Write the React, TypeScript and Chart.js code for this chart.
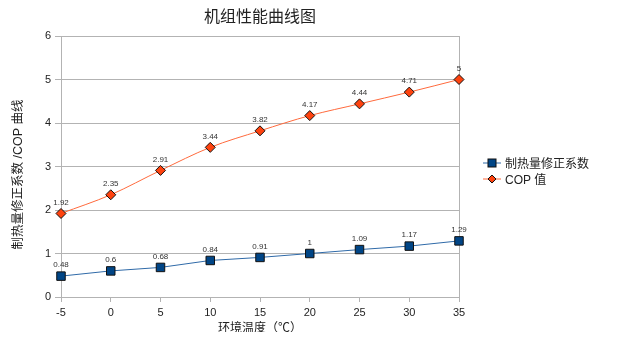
import React, { useEffect, useRef } from "react";
import { Chart, registerables } from "chart.js";

Chart.register(...registerables);

const chartTitle = "机组性能曲线图";
const xTitle = "环境温度（℃）";
const yTitle = "制热量修正系数 /COP 曲线";
const temperatures = ["-5", "0", "5", "10", "15", "20", "25", "30", "35"];
const correctionLabel = "制热量修正系数";
const correctionValues = [0.48, 0.6, 0.68, 0.84, 0.91, 1, 1.09, 1.17, 1.29];
const copLabel = "COP 值";
const copValues = [1.92, 2.35, 2.91, 3.44, 3.82, 4.17, 4.44, 4.71, 5];

const FONT = "'Liberation Sans', 'Noto Sans CJK SC', sans-serif";

const decorPlugin = {
  id: "decor",
  afterDatasetsDraw(chart: any) {
    const ctx = chart.ctx;
    const area = chart.chartArea;
    ctx.save();
    // data labels
    ctx.font = `8px ${FONT}`;
    ctx.fillStyle = "#333";
    ctx.textAlign = "center";
    ctx.textBaseline = "bottom";
    chart.data.datasets.forEach((ds: any, di: number) => {
      const meta = chart.getDatasetMeta(di);
      meta.data.forEach((pt: any, i: number) => {
        ctx.fillText(String(ds.data[i]), pt.x, pt.y - 7);
      });
    });
    // title
    ctx.font = `16px 'Noto Sans CJK SC', sans-serif`;
    ctx.fillStyle = "#222";
    ctx.textBaseline = "middle";
    ctx.fillText(chartTitle, (area.left + area.right) / 2, 8);
    // y axis title
    ctx.save();
    ctx.translate(11, (area.top + area.bottom) / 2 + 8);
    ctx.rotate(-Math.PI / 2);
    ctx.font = `12.5px ${FONT}`;
    ctx.textAlign = "center";
    ctx.textBaseline = "middle";
    ctx.fillText(yTitle, 0, 0);
    ctx.restore();
    // legend
    const lx = area.right + 24;
    const items = [
      { label: correctionLabel, ds: chart.data.datasets[0], y: 155 },
      { label: copLabel, ds: chart.data.datasets[1], y: 171 },
    ];
    items.forEach((it) => {
      ctx.strokeStyle = it.ds.borderColor;
      ctx.lineWidth = 1;
      ctx.beginPath();
      ctx.moveTo(lx, it.y);
      ctx.lineTo(lx + 18, it.y);
      ctx.stroke();
      ctx.fillStyle = it.ds.pointBackgroundColor;
      ctx.strokeStyle = "#111";
      if (it.ds.pointStyle === "rect") {
        ctx.fillRect(lx + 5, it.y - 4, 8, 8);
        ctx.strokeRect(lx + 5, it.y - 4, 8, 8);
      } else {
        ctx.beginPath();
        ctx.moveTo(lx + 9, it.y - 4);
        ctx.lineTo(lx + 13, it.y);
        ctx.lineTo(lx + 9, it.y + 4);
        ctx.lineTo(lx + 5, it.y);
        ctx.closePath();
        ctx.fill();
        ctx.stroke();
      }
      ctx.fillStyle = "#222";
      ctx.font = `12px ${FONT}`;
      ctx.textAlign = "left";
      ctx.textBaseline = "middle";
      ctx.fillText(it.label, lx + 22, it.y + 2);
    });
    ctx.restore();
  },
};

export default function App() {
  const ref = useRef<HTMLCanvasElement>(null);
  useEffect(() => {
    if (!ref.current) return;
    const chart = new Chart(ref.current, {
      type: "line",
      data: {
        labels: temperatures,
        datasets: [
          {
            label: correctionLabel,
            data: correctionValues,
            borderColor: "#2f6aa8",
            borderWidth: 1,
            backgroundColor: "#004586",
            pointBackgroundColor: "#004586",
            pointBorderColor: "#111",
            pointBorderWidth: 1,
            pointStyle: "rect",
            pointRadius: 6,
            tension: 0,
          },
          {
            label: copLabel,
            data: copValues,
            borderColor: "#ff6a3d",
            borderWidth: 1,
            backgroundColor: "#ff420e",
            pointBackgroundColor: "#ff420e",
            pointBorderColor: "#111",
            pointBorderWidth: 1,
            pointStyle: "rectRot",
            pointRadius: 5,
            cubicInterpolationMode: "monotone",
          },
        ],
      },
      options: {
        animation: false,
        responsive: false,
        maintainAspectRatio: false,
        layout: { padding: { left: 0, right: 151, top: 28, bottom: 0 } },
        plugins: {
          legend: { display: false },
          title: { display: false },
          tooltip: { enabled: false },
        },
        scales: {
          x: {
            offset: false,
            afterFit: (s: any) => {
              s.height = 35;
            },
            grid: {
              color: (c: any) =>
                c.index === 0 || c.index === temperatures.length - 1 ? "#b3b3b3" : "rgba(0,0,0,0)",
              tickColor: "#b3b3b3",
              tickLength: 5,
            },
            border: { color: "#b3b3b3" },
            ticks: { color: "#222", font: { size: 11, family: FONT }, padding: 4 },
            title: {
              display: true,
              text: xTitle,
              color: "#222",
              font: { size: 12, family: FONT },
              padding: { top: 0, bottom: -4 },
            },
          },
          y: {
            min: 0,
            max: 6,
            afterFit: (s: any) => {
              s.width = 53;
            },
            grid: { color: "#b3b3b3", tickColor: "#b3b3b3", tickLength: 6 },
            border: { color: "#b3b3b3" },
            ticks: { stepSize: 1, color: "#222", font: { size: 11, family: FONT }, padding: 4 },
          },
        },
      } as any,
      plugins: [decorPlugin],
    });
    return () => chart.destroy();
  }, []);
  return <canvas ref={ref} width={602} height={324} style={{ display: "block" }} />;
}
